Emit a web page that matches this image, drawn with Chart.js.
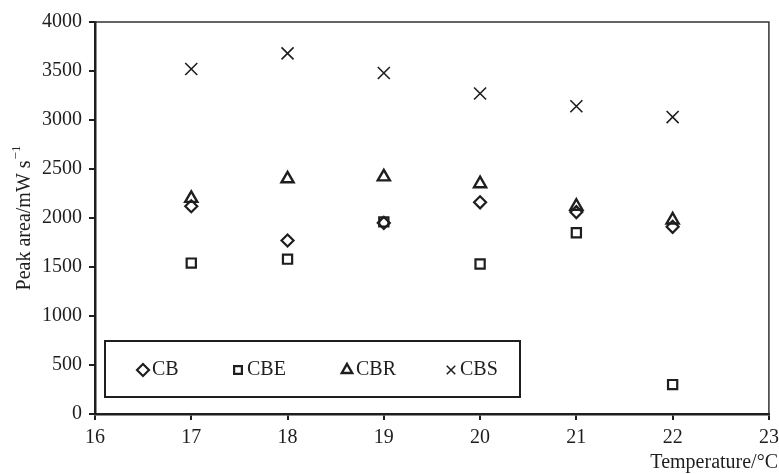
<!DOCTYPE html>
<html>
<head>
<meta charset="utf-8">
<script src="https://cdn.jsdelivr.net/npm/chart.js@4/dist/chart.umd.min.js"></script>
<style>
  html, body { margin: 0; padding: 0; background: #fff; }
  #wrap { width: 779px; height: 474px; }
</style>
</head>
<body>
<div id="wrap"><canvas id="c" width="779" height="474"></canvas></div>
<script>
// Measured peak areas (mW s^-1) at each temperature (°C)
const temperatures = [17, 18, 19, 20, 21, 22];
const cbValues  = [2120, 1770, 1950, 2160, 2060, 1910];
const cbeValues = [1540, 1580, 1960, 1530, 1850, 300];
const cbrValues = [2200, 2400, 2420, 2350, 2120, 1980];
const cbsValues = [3520, 3680, 3480, 3270, 3140, 3030];

const seriesNames = ['CB', 'CBE', 'CBR', 'CBS'];
const xTicks = [16, 17, 18, 19, 20, 21, 22, 23];
const yTicks = [0, 500, 1000, 1500, 2000, 2500, 3000, 3500, 4000];

const INK = '#1e1e1e';
const FONT = 'Liberation Serif';

function pts(values) {
  return temperatures.map((t, i) => ({ x: t, y: values[i] }));
}

const markerSpecs = [
  { style: 'rectRot',  radius: 6,   width: 2.2 },
  { style: 'rect',     radius: 6.5, width: 2.2 },
  { style: 'triangle', radius: 7,   width: 2.4 },
  { style: 'crossRot', radius: 8.5, width: 1.6 }
];
const legendSpecs = [
  { style: 'rectRot',  radius: 6,   width: 2.2 },
  { style: 'rect',     radius: 5.5, width: 2.2 },
  { style: 'triangle', radius: 6,   width: 2.4 },
  { style: 'crossRot', radius: 6,   width: 1.5 }
];

const allValues = [cbValues, cbeValues, cbrValues, cbsValues];
const datasets = seriesNames.map((name, i) => ({
  label: name,
  data: pts(allValues[i]),
  showLine: false,
  pointStyle: markerSpecs[i].style,
  pointRadius: markerSpecs[i].radius,
  pointBorderWidth: markerSpecs[i].width,
  borderColor: INK,
  backgroundColor: 'rgba(0,0,0,0)',
  pointBackgroundColor: 'rgba(0,0,0,0)'
}));

// Frame on top/right, boxed legend and the two axis titles
const decorations = {
  id: 'decorations',
  beforeDatasetsDraw(chart) {
    const { ctx, chartArea: a } = chart;
    ctx.save();
    ctx.strokeStyle = '#333';
    ctx.lineWidth = 1.5;
    ctx.beginPath();
    ctx.moveTo(a.left, a.top);
    ctx.lineTo(a.right, a.top);
    ctx.lineTo(a.right, a.bottom);
    ctx.stroke();
    ctx.restore();
  },
  afterDraw(chart) {
    const { ctx, chartArea: a } = chart;
    ctx.save();

    // legend box
    const bx = a.left + 10, by = a.top + 319, bw = 415, bh = 56;
    ctx.strokeStyle = INK;
    ctx.lineWidth = 2;
    ctx.strokeRect(bx, by, bw, bh);
    const markerX = [143, 238, 347, 451];
    const cy = by + bh / 2 + 1;
    ctx.font = '20px "' + FONT + '"';
    ctx.fillStyle = INK;
    ctx.textBaseline = 'middle';
    ctx.textAlign = 'left';
    seriesNames.forEach((name, i) => {
      const s = legendSpecs[i];
      ctx.strokeStyle = INK;
      ctx.fillStyle = 'rgba(0,0,0,0)';
      ctx.lineWidth = s.width;
      Chart.helpers.drawPoint(ctx, { pointStyle: s.style, radius: s.radius, borderWidth: s.width }, markerX[i], cy);
      ctx.fillStyle = INK;
      ctx.fillText(name, markerX[i] + 9, cy);
    });

    // x-axis title, right-aligned below the axis
    ctx.textAlign = 'right';
    ctx.fillText('Temperature/°C', 778, 463);

    // y-axis title with superscript exponent
    const main = 'Peak area/mW s';
    const sup = '\u22121';
    ctx.font = '20px "' + FONT + '"';
    const wMain = ctx.measureText(main).width;
    ctx.font = '13px "' + FONT + '"';
    const wSup = ctx.measureText(sup).width;
    const total = wMain + wSup + 1;
    ctx.translate(25, (a.top + a.bottom) / 2);
    ctx.rotate(-Math.PI / 2);
    ctx.textAlign = 'left';
    ctx.textBaseline = 'middle';
    ctx.font = '20px "' + FONT + '"';
    ctx.fillText(main, -total / 2, 0);
    ctx.font = '13px "' + FONT + '"';
    ctx.fillText(sup, -total / 2 + wMain + 1, -8);
    ctx.restore();
  }
};

new Chart(document.getElementById('c'), {
  type: 'scatter',
  data: { datasets },
  plugins: [decorations],
  options: {
    responsive: false,
    devicePixelRatio: 1,
    animation: false,
    layout: { padding: { left: 0, top: 22, right: 8, bottom: 0 } },
    plugins: {
      legend: { display: false },
      tooltip: { enabled: false }
    },
    scales: {
      x: {
        type: 'linear',
        min: 16,
        max: 23,
        afterBuildTicks: s => { s.ticks = xTicks.map(v => ({ value: v })); },
        afterFit: s => { s.height = 60; s.paddingLeft = 0; s.paddingRight = 0; },
        ticks: { font: { family: FONT, size: 20 }, color: INK, padding: 6, maxRotation: 0, callback: v => String(v) },
        grid: { drawOnChartArea: false, drawTicks: true, tickLength: 6, color: INK, lineWidth: 2 },
        border: { display: true, color: INK, width: 2.5 }
      },
      y: {
        type: 'linear',
        min: 0,
        max: 4000,
        afterBuildTicks: s => { s.ticks = yTicks.map(v => ({ value: v })); },
        afterFit: s => { s.width = 95; s.paddingTop = 0; s.paddingBottom = 0; },
        ticks: { font: { family: FONT, size: 20 }, color: INK, padding: 7, callback: v => String(v) },
        grid: { drawOnChartArea: false, drawTicks: true, tickLength: 6, color: INK, lineWidth: 2 },
        border: { display: true, color: INK, width: 2.5 }
      }
    }
  }
});
</script>
</body>
</html>
